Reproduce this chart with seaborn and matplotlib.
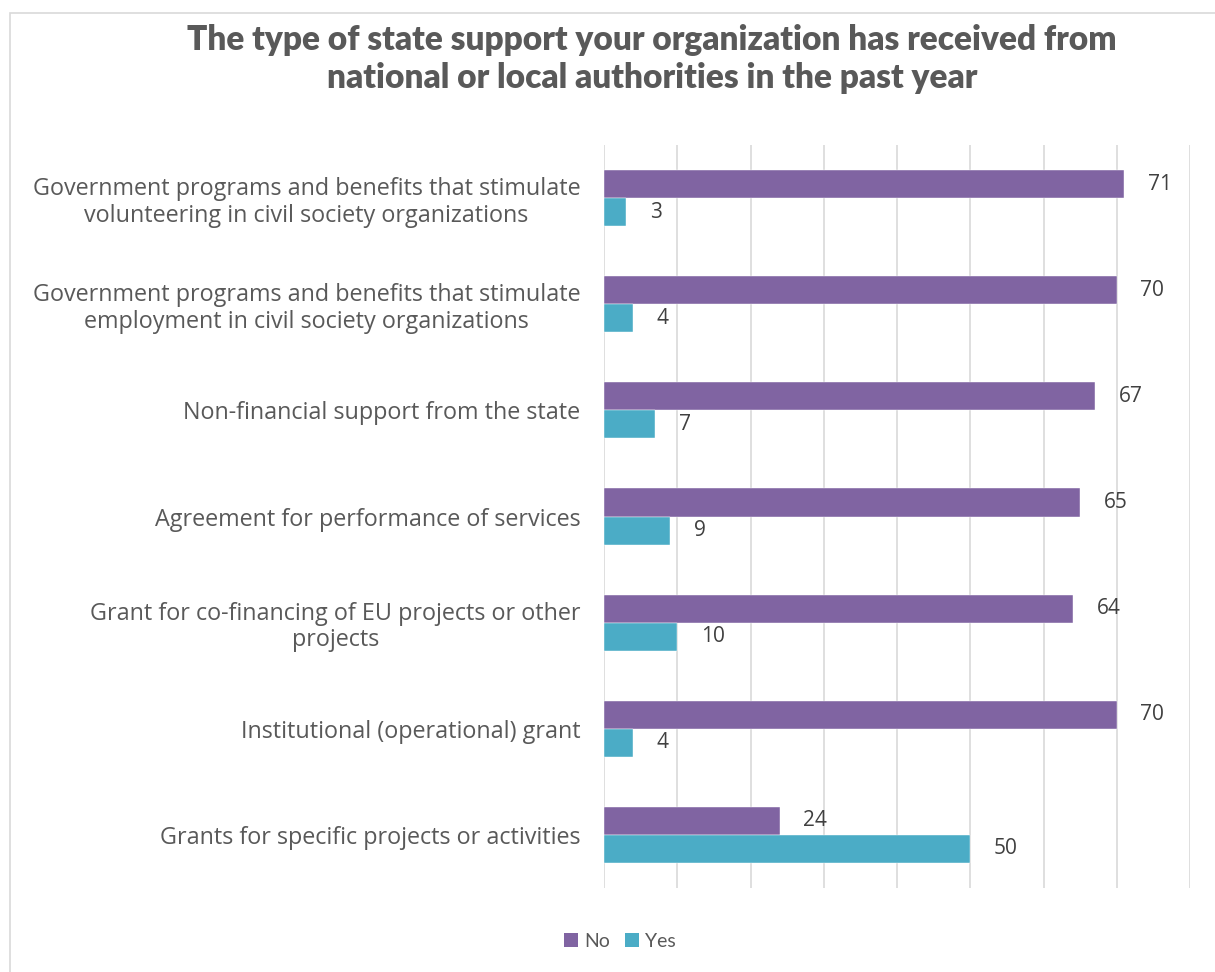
import matplotlib
matplotlib.use("Agg")
import matplotlib.pyplot as plt
import seaborn as sns
import pandas as pd
from matplotlib.patches import Rectangle, Patch

categories = [
    "Government programs and benefits that stimulate\nvolunteering in civil society organizations",
    "Government programs and benefits that stimulate\nemployment in civil society organizations",
    "Non-financial support from the state",
    "Agreement for performance of services",
    "Grant for co-financing of EU projects or other\nprojects",
    "Institutional (operational) grant",
    "Grants for specific projects or activities",
]
no_values = [71, 70, 67, 65, 64, 70, 24]
yes_values = [3, 4, 7, 9, 10, 4, 50]
series = ["No", "Yes"]
colors = {"No": "#8064A2", "Yes": "#4BACC6"}

df = pd.DataFrame({
    "category": categories * 2,
    "value": no_values + yes_values,
    "series": ["No"] * len(categories) + ["Yes"] * len(categories),
})

sns.set_theme(style="white")
plt.rcParams["font.family"] = ["Lato", "DejaVu Sans"]

W, H = 1215, 972
fig = plt.figure(figsize=(W / 100, H / 100), dpi=100)
fig.patches.append(Rectangle((10 / W, -0.05), 1.2, 1 - 13 / H + 0.05, transform=fig.transFigure,
                             fill=False, edgecolor="#D9D9D9", linewidth=1.2))
ax = fig.add_axes([604 / W, 1 - 888 / H, (1190 - 604) / W, (888 - 145) / H])

sns.barplot(data=df, y="category", x="value", hue="series", order=categories,
            hue_order=series, palette=colors, width=0.53, orient="h", ax=ax,
            legend=False, saturation=1, edgecolor="white", linewidth=0.3)

ax.set_xlim(0, 80)
ax.set_xticks(range(0, 81, 10))
ax.set_xticklabels([])
ax.tick_params(axis="x", length=0)
ax.grid(axis="x", color="#D9D9D9", linewidth=1.2)
ax.set_axisbelow(True)
for s in ax.spines.values():
    s.set_visible(False)
ax.set_xlabel("")
ax.set_ylabel("")
ax.tick_params(axis="y", length=0, pad=17)
for lbl in ax.get_yticklabels():
    lbl.set_fontsize(16.8)
    lbl.set_fontfamily("Open Sans")
    lbl.set_color("#595959")
    lbl.set_multialignment("center")
    lbl.set_linespacing(1.15)

for cont in ax.containers:
    ax.bar_label(cont, padding=17, fontsize=15, color="#404040", fontfamily="Open Sans")

fig.text(652 / W, 1 - 59 / H,
         "The type of state support your organization has received from\nnational or local authorities in the past year",
         ha="center", va="center", fontsize=24, fontweight="heavy", color="#595959",
         linespacing=1.2)

handles = [Patch(facecolor=colors[s], edgecolor="none") for s in series]
leg = fig.legend(handles, series, loc="center", bbox_to_anchor=(620 / W, 1 - 941 / H), ncol=2,
                 frameon=False, fontsize=14, handlelength=0.7, handleheight=0.7,
                 handletextpad=0.3, columnspacing=0.8)
for t in leg.get_texts():
    t.set_color("#595959")

fig.savefig("out.png", dpi=100)
